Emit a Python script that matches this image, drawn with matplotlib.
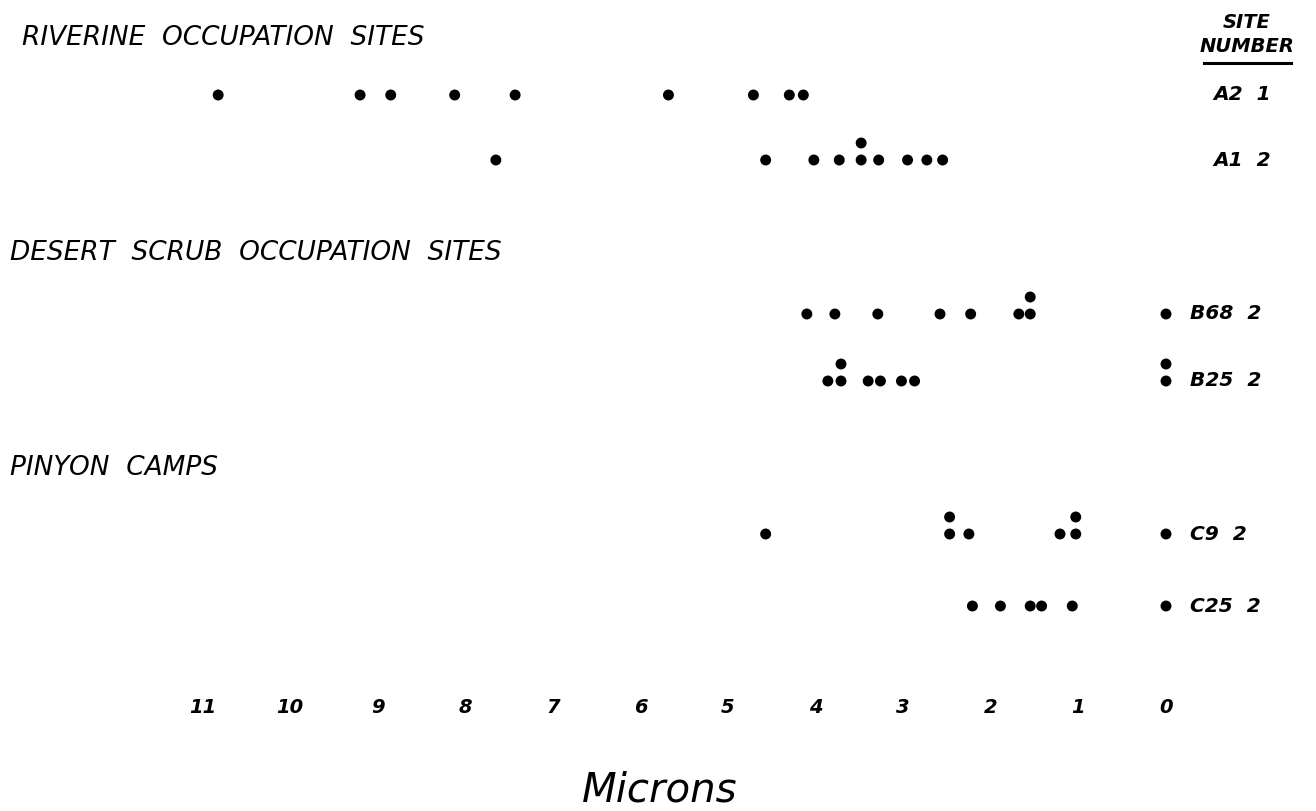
import matplotlib.pyplot as plt
from collections import Counter

# hydration rim thickness (microns), one list per site
sites = ['A2  1', 'A1  2', 'B68  2', 'B25  2', 'C9  2', 'C25  2']
a2 = [10.82, 9.20, 8.85, 8.12, 7.43, 5.68, 4.71, 4.30, 4.14]
a1 = [7.65, 4.57, 4.02, 3.73, 3.48, 3.48, 3.28, 2.95, 2.73, 2.55]
b68 = [4.10, 3.78, 3.29, 2.58, 2.23, 1.68, 1.55, 1.55, 0.0]
b25 = [3.86, 3.71, 3.71, 3.40, 3.26, 3.02, 2.87, 0.0, 0.0]
c9 = [4.57, 2.47, 2.47, 2.25, 1.21, 1.03, 1.03, 0.0]
c25 = [2.21, 1.89, 1.55, 1.42, 1.07, 0.0]
series = [a2, a1, b68, b25, c9, c25]

groups = ['RIVERINE  OCCUPATION  SITES', 'DESERT  SCRUB  OCCUPATION  SITES', 'PINYON  CAMPS']
ticks = list(range(11, -1, -1))
tick_labels = [str(t) for t in ticks]

W, H = 1316, 811
# layout (pixels from top)
row_y = [95, 160, 314, 381, 534, 606]
label_x = [1213, 1213, 1190, 1190, 1190, 1190]
group_y = [38, 253, 468]
stack = 17

fig = plt.figure(figsize=(W / 100, H / 100), dpi=100)
ax = fig.add_axes([0, 121 / H, 1, 690 / H])
ax.set_xlim(1166 / 87.6, (1166 - W) / 87.6)
ax.set_ylim(690, 0)
for s in ax.spines.values():
    s.set_visible(False)
ax.set_yticks([])
ax.set_xticks(ticks)
ax.set_xticklabels(tick_labels, fontsize=14, fontstyle='italic', fontweight='bold')
ax.tick_params(axis='x', length=0, pad=6)

for vals, y0 in zip(series, row_y):
    seen = Counter()
    xs, ys = [], []
    for v in vals:
        xs.append(v)
        ys.append(y0 - stack * seen[v])
        seen[v] += 1
    ax.scatter(xs, ys, s=62, color='black', edgecolors='none', zorder=3)

for lab, x0, y0 in zip(sites, label_x, row_y):
    fig.text(x0 / W, 1 - y0 / H, lab, fontsize=14.5, fontstyle='italic', fontweight='bold',
             ha='left', va='center')

for g, y0, x0 in zip(groups, group_y, [22, 10, 10]):
    fig.text(x0 / W, 1 - y0 / H, g, fontsize=19, fontstyle='italic', ha='left', va='center')

fig.text(1247 / W, 1 - 22 / H, 'SITE', fontsize=14, fontstyle='italic', fontweight='bold',
         ha='center', va='center')
fig.text(1247 / W, 1 - 47 / H, 'NUMBER', fontsize=14, fontstyle='italic', fontweight='bold',
         ha='center', va='center')
fig.add_artist(plt.Line2D([1204 / W, 1291 / W], [1 - 63 / H] * 2, color='black', lw=2.2))

fig.text(660 / W, 1 - 790 / H, 'Microns', fontsize=29, fontstyle='italic', ha='center', va='center')

fig.savefig('out.png', dpi=100, facecolor='white')
